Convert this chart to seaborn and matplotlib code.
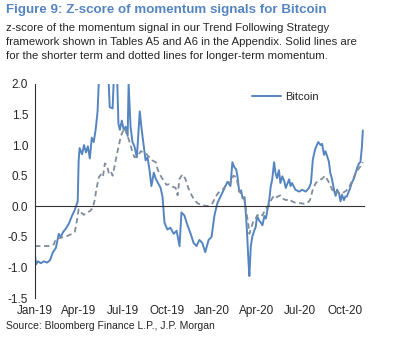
import numpy as np
import pandas as pd
import matplotlib
matplotlib.use("Agg")
import matplotlib.pyplot as plt
import matplotlib.dates as mdates
import seaborn as sns

# days since 2019-01-01 and z-score
short_days = [0, 2, 6, 12, 18, 25, 31, 37, 43, 49, 53, 58, 64, 70, 76, 82, 88, 90, 92, 97,
              101, 105, 109, 113, 117, 121, 125, 129, 134, 142, 150, 154, 160, 164, 168, 172, 175, 179, 183, 187,
              191, 193, 197, 201, 205, 210, 216, 220, 224, 228, 232, 236, 240, 245, 249, 253, 259, 263, 267, 273,
              279, 286, 292, 298, 302, 308, 314, 321, 327, 333, 339, 345, 351, 358, 364, 370, 376, 382, 390, 397,
              403, 407, 411, 415, 418, 421, 425, 428, 432, 435, 437, 440, 442, 445, 448, 452, 455, 458, 462, 465,
              469, 473, 476, 479, 483, 486, 489, 493, 496, 499, 503, 506, 510, 514, 517, 524, 527, 530, 537, 545,
              551, 558, 565, 569, 573, 578, 584, 589, 592, 596, 599, 606, 609, 612, 617, 620, 623, 627, 630, 633,
              637, 640, 643, 647, 650, 653, 658, 661, 664, 668, 671, 674, 676]
short_z = [-0.80, -0.95, -0.90, -0.93, -0.90, -0.92, -0.88, -0.75, -0.68, -0.45, -0.50, -0.42, -0.36, -0.28, -0.16, -0.06, 0.08, 0.75, 0.95, 0.85,
           1.00, 0.88, 0.98, 0.78, 1.12, 1.05, 1.25, 1.55, 2.50, 2.60, 2.40, 1.62, 1.60, 2.40, 2.50, 1.35, 1.25, 1.40, 1.25, 1.30,
           1.15, 2.00, 1.30, 1.05, 0.98, 0.80, 1.55, 1.25, 1.00, 0.75, 0.80, 0.60, 0.33, 0.55, 0.45, 0.39, 0.30, 0.15, -0.27, -0.38,
           -0.35, -0.45, -0.40, -0.65, -0.10, -0.15, -0.30, -0.45, -0.60, -0.65, -0.55, -0.60, -0.75, -0.55, -0.50, -0.15, 0.05, 0.15, 0.28, 0.40,
           0.33, 0.72, 0.64, 0.60, 0.46, 0.24, 0.26, 0.13, 0.15, -0.14, -0.40, -0.87, -1.14, -0.65, -0.50, -0.40, -0.34, -0.16, -0.23, -0.26,
           -0.31, -0.16, -0.20, -0.07, 0.10, 0.32, 0.43, 0.72, 0.54, 0.46, 0.59, 0.38, 0.49, 0.41, 0.30, 0.44, 0.33, 0.38, 0.27, 0.24,
           0.27, 0.24, 0.30, 0.38, 0.77, 0.94, 1.05, 1.00, 1.02, 0.84, 0.90, 0.73, 0.54, 0.46, 0.25, 0.17, 0.27, 0.21, 0.08, 0.19,
           0.10, 0.16, 0.16, 0.24, 0.30, 0.38, 0.46, 0.54, 0.62, 0.70, 0.72, 0.96, 1.24]

long_days = [0, 10, 21, 31, 39, 43, 51, 60, 68, 76, 82, 86, 90, 95, 101, 107, 113, 119, 123, 127,
             132, 136, 140, 144, 148, 152, 156, 160, 164, 168, 173, 177, 181, 185, 189, 193, 197, 201, 205, 212,
             218, 224, 230, 236, 242, 249, 253, 259, 265, 271, 277, 284, 290, 294, 298, 304, 310, 316, 323, 329,
             335, 341, 347, 353, 360, 366, 372, 378, 384, 390, 397, 403, 409, 415, 421, 427, 432, 436, 440, 442,
             446, 450, 454, 458, 464, 469, 475, 483, 487, 493, 499, 506, 512, 518, 524, 530, 536, 542, 549, 555,
             561, 567, 573, 579, 586, 592, 598, 604, 610, 616, 623, 629, 635, 641, 647, 653, 660, 666, 672, 676]
long_z = [-0.65, -0.65, -0.65, -0.65, -0.62, -0.53, -0.52, -0.50, -0.48, -0.45, -0.42, -0.25, -0.05, -0.10, -0.14, -0.10, -0.08, -0.03, 0.10, 0.30,
          0.48, 0.52, 0.48, 0.70, 0.68, 0.55, 0.58, 0.50, 0.65, 0.82, 1.00, 1.15, 1.22, 1.28, 1.18, 1.10, 1.00, 0.88, 0.80, 0.82,
          0.90, 0.88, 0.85, 0.80, 0.75, 0.72, 0.60, 0.50, 0.42, 0.35, 0.36, 0.32, 0.30, 0.18, 0.45, 0.52, 0.45, 0.30, 0.18, 0.10,
          0.05, 0.03, 0.02, 0.00, 0.02, 0.05, 0.15, 0.22, 0.25, 0.30, 0.40, 0.38, 0.50, 0.48, 0.25, 0.18, 0.10, -0.10, -0.30, -0.45,
          -0.35, -0.25, -0.22, -0.15, -0.12, -0.15, -0.05, 0.02, 0.10, 0.18, 0.15, 0.18, 0.12, 0.10, 0.12, 0.08, 0.06, 0.05, 0.05, 0.04,
          0.05, 0.10, 0.28, 0.38, 0.42, 0.45, 0.50, 0.42, 0.32, 0.22, 0.24, 0.20, 0.22, 0.25, 0.30, 0.40, 0.52, 0.60, 0.66, 0.72]

start = pd.Timestamp("2019-01-01")
short_df = pd.DataFrame({"date": start + pd.to_timedelta(short_days, unit="D"), "z": short_z})
long_df = pd.DataFrame({"date": start + pd.to_timedelta(long_days, unit="D"), "z": long_z})

sns.set_style("white")
plt.rcParams["font.family"] = ["Liberation Sans", "DejaVu Sans"]

blue = "#5585c0"
grey = "#7f8c9c"

fig = plt.figure(figsize=(4.12, 3.6), dpi=100)
ax = fig.add_axes([0.085, 0.172, 0.798, 0.595])

sns.lineplot(data=short_df, x="date", y="z", color=blue, lw=1.4, label="Bitcoin", ax=ax)
sns.lineplot(data=long_df, x="date", y="z", color=grey, lw=1.3, linestyle=(0, (3, 2)), legend=False, ax=ax)

ax.set_ylim(-1.5, 2.0)
ax.set_xlim(start, start + pd.Timedelta(days=678))
ax.set_yticks(np.arange(-1.5, 2.01, 0.5))
ax.yaxis.set_major_formatter(matplotlib.ticker.FormatStrFormatter("%.1f"))
ax.xaxis.set_major_locator(mdates.MonthLocator(bymonth=[1, 4, 7, 10]))
ax.xaxis.set_major_formatter(mdates.DateFormatter("%b-%y"))
ax.set_xlabel("")
ax.set_ylabel("")

for s in ["top", "right"]:
    ax.spines[s].set_visible(False)
ax.spines["bottom"].set_position(("data", 0))
ax.spines["bottom"].set_color("#333333")
ax.spines["left"].set_color("#333333")
ax.tick_params(axis="y", direction="out", length=3, width=1, color="#333333", labelsize=8.5, pad=2)
ax.tick_params(axis="x", direction="out", length=3, width=1, color="#333333", labelsize=8.5, pad=68)

leg = ax.legend(loc="upper left", bbox_to_anchor=(0.63, 1.01), frameon=False, fontsize=8,
                handlelength=2.6, handletextpad=0.4)

fig.text(0.015, 0.972, "Figure 9: Z-score of momentum signals for Bitcoin", fontsize=9.6,
         fontweight="bold", color=blue, va="center", ha="left")
fig.text(0.015, 0.935,
         "z-score of the momentum signal in our Trend Following Strategy\n"
         "framework shown in Tables A5 and A6 in the Appendix. Solid lines are\n"
         "for the shorter term and dotted lines for longer-term momentum.",
         fontsize=8.2, va="top", ha="left", linespacing=1.45)
fig.text(0.015, 0.094, "Source: Bloomberg Finance L.P., J.P. Morgan", fontsize=7.5, va="center", ha="left")

fig.savefig("out.png", dpi=100)
